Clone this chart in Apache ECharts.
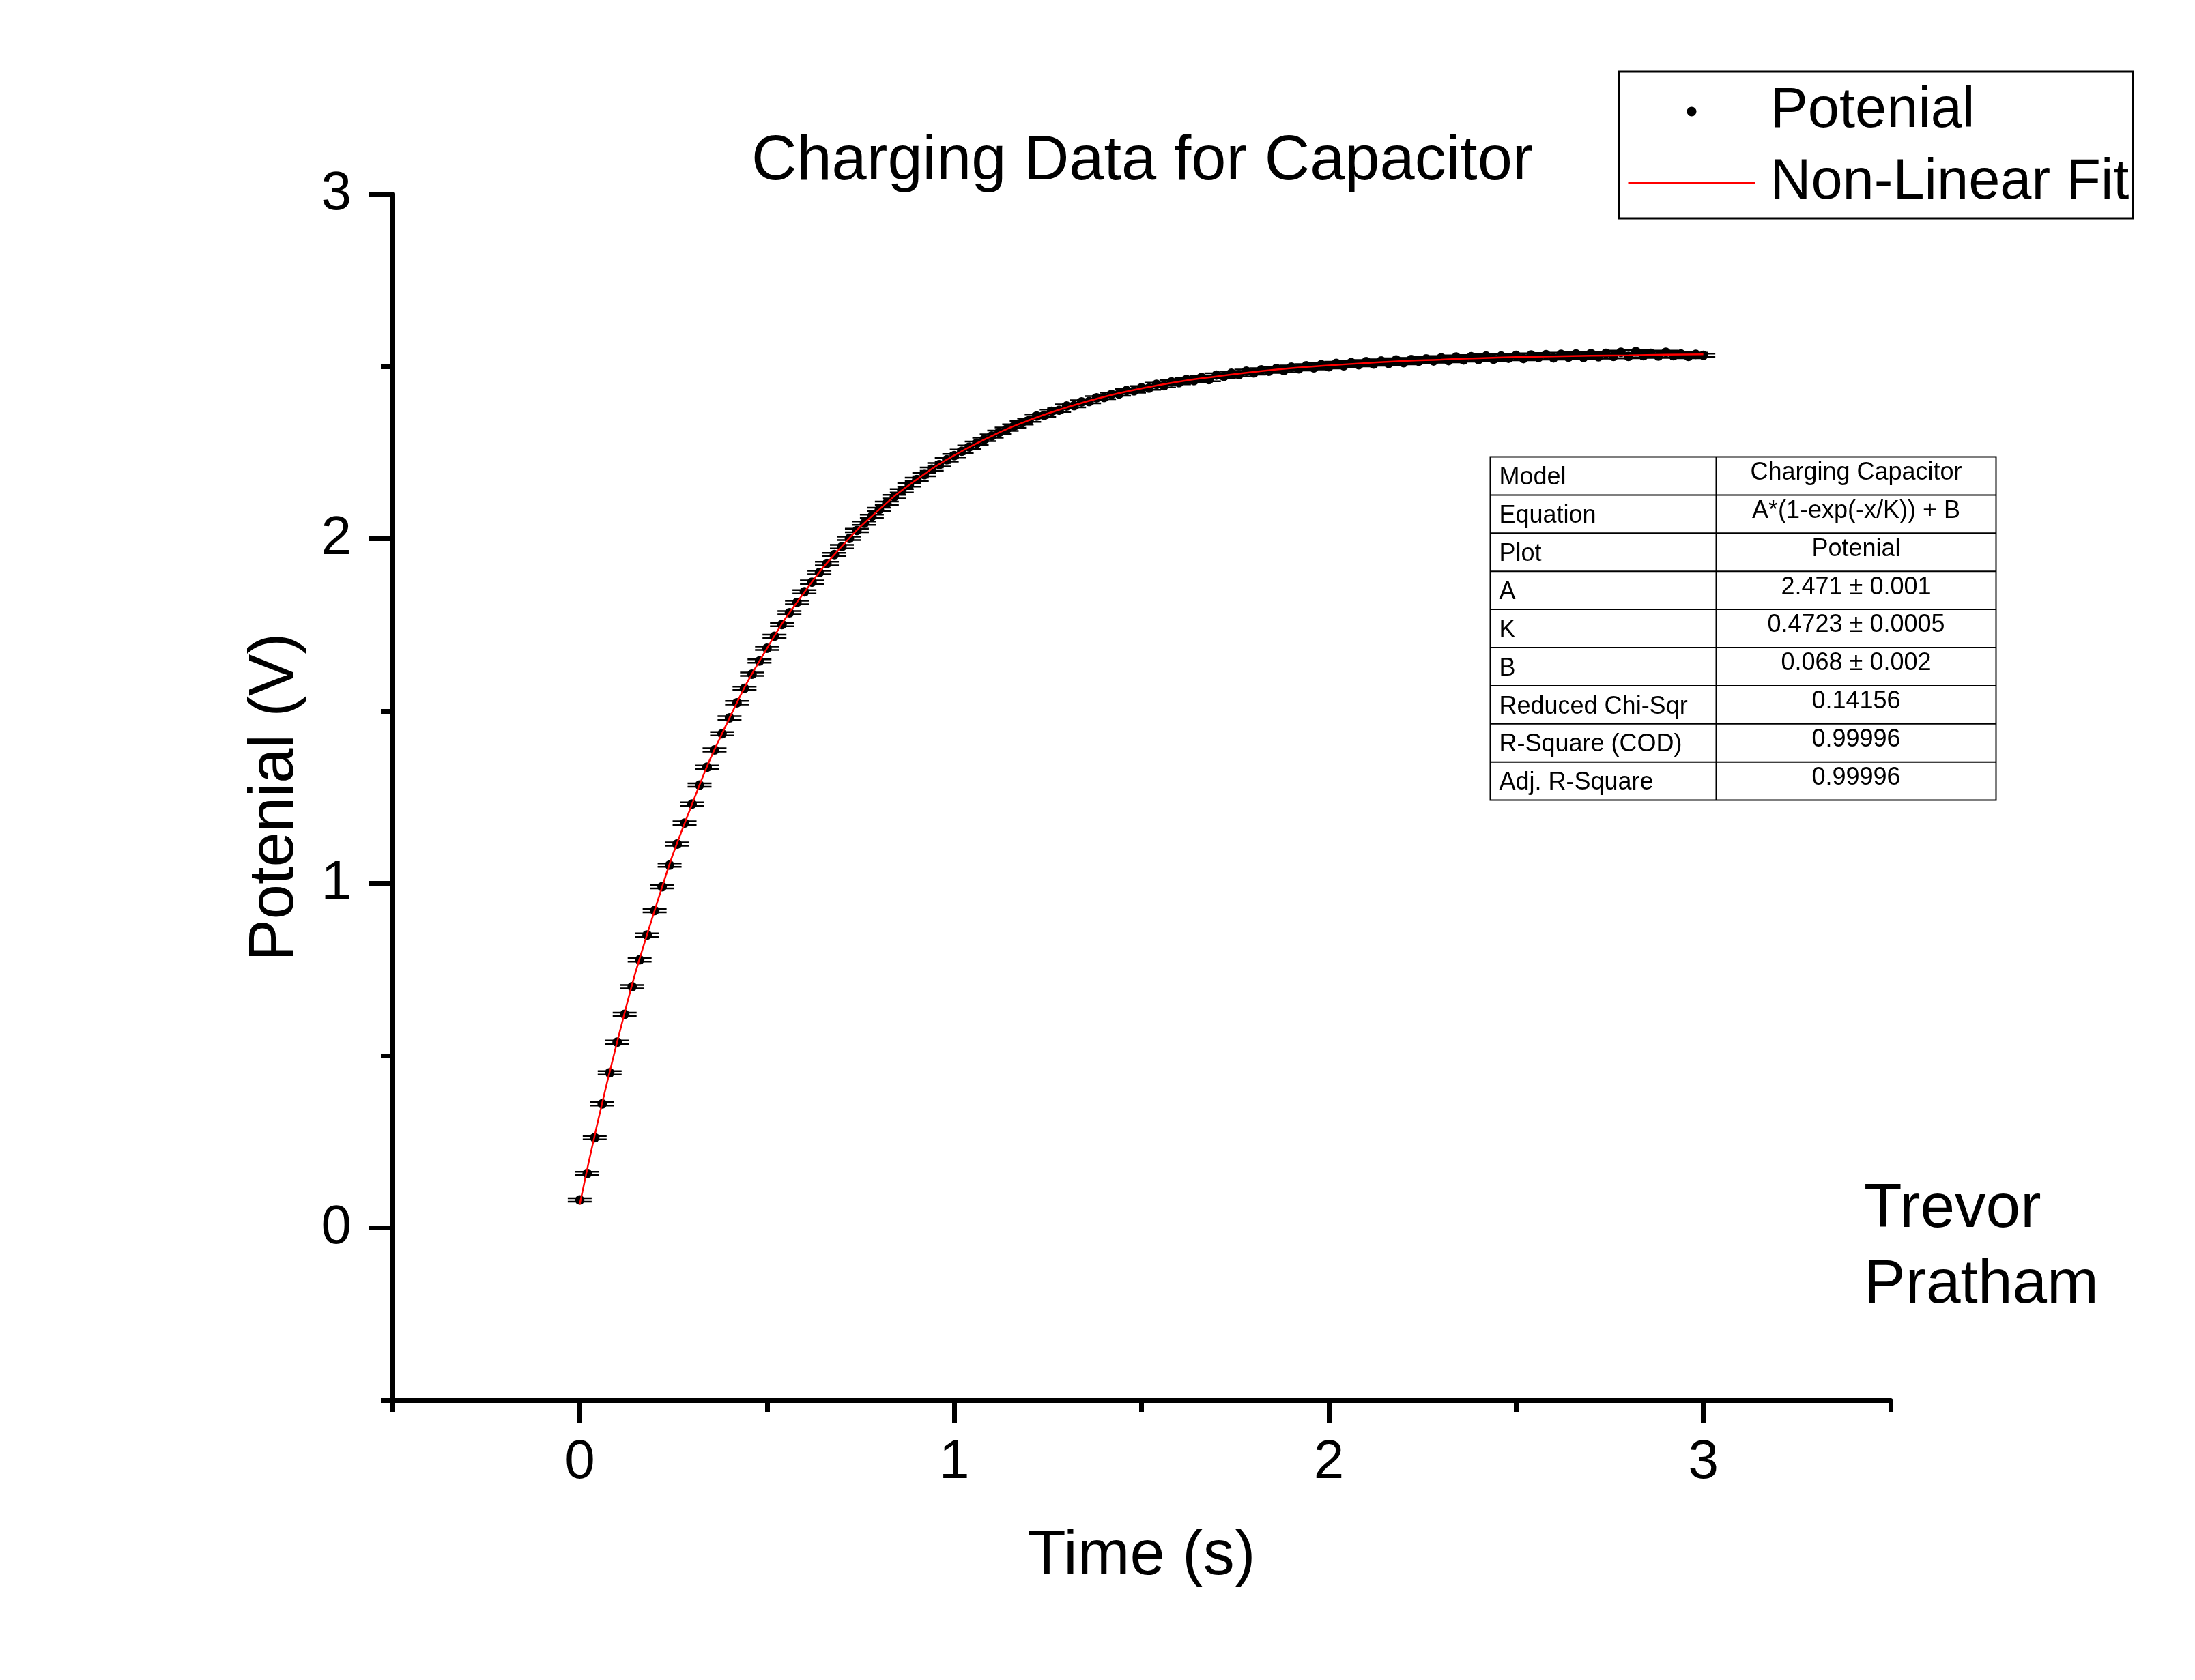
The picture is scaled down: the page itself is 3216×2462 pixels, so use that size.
<!DOCTYPE html>
<html>
<head>
<meta charset="utf-8">
<title>Charging Data for Capacitor</title>
<script src="https://cdn.jsdelivr.net/npm/echarts@6.0.0/dist/echarts.min.js"></script>
<style>
  html, body { margin: 0; padding: 0; background: #fff; }
  #main { width: 3216px; height: 2462px; }
</style>
</head>
<body>
<div id="main"></div>
<script>
// measured readings, one every 0.02 s
const time = [
  0, 0.02, 0.04, 0.06, 0.08, 0.1, 0.12, 0.14, 0.16, 0.18,
  0.2, 0.22, 0.24, 0.26, 0.28, 0.3, 0.32, 0.34, 0.36, 0.38,
  0.4, 0.42, 0.44, 0.46, 0.48, 0.5, 0.52, 0.54, 0.56, 0.58,
  0.6, 0.62, 0.64, 0.66, 0.68, 0.7, 0.72, 0.74, 0.76, 0.78,
  0.8, 0.82, 0.84, 0.86, 0.88, 0.9, 0.92, 0.94, 0.96, 0.98,
  1, 1.02, 1.04, 1.06, 1.08, 1.1, 1.12, 1.14, 1.16, 1.18,
  1.2, 1.22, 1.24, 1.26, 1.28, 1.3, 1.32, 1.34, 1.36, 1.38,
  1.4, 1.42, 1.44, 1.46, 1.48, 1.5, 1.52, 1.54, 1.56, 1.58,
  1.6, 1.62, 1.64, 1.66, 1.68, 1.7, 1.72, 1.74, 1.76, 1.78,
  1.8, 1.82, 1.84, 1.86, 1.88, 1.9, 1.92, 1.94, 1.96, 1.98,
  2, 2.02, 2.04, 2.06, 2.08, 2.1, 2.12, 2.14, 2.16, 2.18,
  2.2, 2.22, 2.24, 2.26, 2.28, 2.3, 2.32, 2.34, 2.36, 2.38,
  2.4, 2.42, 2.44, 2.46, 2.48, 2.5, 2.52, 2.54, 2.56, 2.58,
  2.6, 2.62, 2.64, 2.66, 2.68, 2.7, 2.72, 2.74, 2.76, 2.78,
  2.8, 2.82, 2.84, 2.86, 2.88, 2.9, 2.92, 2.94, 2.96, 2.98,
  3
];
const potential = [
  0.081, 0.158, 0.262, 0.360, 0.450, 0.539, 0.620, 0.700, 0.778, 0.850,
  0.921, 0.990, 1.053, 1.114, 1.175, 1.230, 1.285, 1.337, 1.387, 1.434,
  1.480, 1.524, 1.566, 1.607, 1.645, 1.682, 1.717, 1.751, 1.785, 1.815,
  1.846, 1.874, 1.902, 1.928, 1.954, 1.977, 2.001, 2.024, 2.045, 2.065,
  2.085, 2.103, 2.122, 2.139, 2.156, 2.172, 2.186, 2.202, 2.215, 2.229,
  2.241, 2.254, 2.266, 2.277, 2.288, 2.298, 2.309, 2.318, 2.327, 2.336,
  2.344, 2.356, 2.358, 2.370, 2.373, 2.385, 2.386, 2.397, 2.398, 2.409,
  2.410, 2.419, 2.420, 2.430, 2.429, 2.438, 2.437, 2.448, 2.444, 2.455,
  2.453, 2.462, 2.459, 2.468, 2.462, 2.475, 2.471, 2.480, 2.476, 2.486,
  2.481, 2.490, 2.486, 2.494, 2.488, 2.498, 2.493, 2.502, 2.496, 2.505,
  2.499, 2.509, 2.502, 2.511, 2.505, 2.514, 2.507, 2.516, 2.509, 2.519,
  2.511, 2.520, 2.515, 2.522, 2.516, 2.525, 2.517, 2.527, 2.519, 2.528,
  2.520, 2.530, 2.521, 2.530, 2.524, 2.532, 2.523, 2.533, 2.526, 2.534,
  2.525, 2.535, 2.527, 2.536, 2.526, 2.537, 2.528, 2.538, 2.529, 2.541,
  2.529, 2.543, 2.531, 2.538, 2.530, 2.541, 2.531, 2.536, 2.529, 2.535,
  2.532
];
const potentialErr = 0.005;

// fitted curve, read every 0.1 s
const fitTime = [
  0, 0.1, 0.2, 0.3, 0.4, 0.5, 0.6, 0.7, 0.8, 0.9,
  1, 1.1, 1.2, 1.3, 1.4, 1.5, 1.6, 1.7, 1.8, 1.9,
  2, 2.1, 2.2, 2.3, 2.4, 2.5, 2.6, 2.7, 2.8, 2.9, 3
];
const fitPotential = [
  0.068, 0.540, 0.921, 1.230, 1.480, 1.682, 1.845, 1.978, 2.085, 2.172,
  2.242, 2.298, 2.344, 2.381, 2.412, 2.436, 2.456, 2.471, 2.484, 2.495,
  2.503, 2.510, 2.516, 2.520, 2.524, 2.527, 2.529, 2.531, 2.532, 2.534, 2.535
];

const xMajorTicks = [0, 1, 2, 3];
const xMinorTicks = [-0.5, 0.5, 1.5, 2.5, 3.5];
const yMajorTicks = [0, 1, 2, 3];
const yMinorTicks = [-0.5, 0.5, 1.5, 2.5];

const tableNames = ['Model', 'Equation', 'Plot', 'A', 'K', 'B', 'Reduced Chi-Sqr', 'R-Square (COD)', 'Adj. R-Square'];
const tableValues = ['Charging Capacitor', 'A*(1-exp(-x/K)) + B', 'Potenial', '2.471 ± 0.001', '0.4723 ± 0.0005', '0.068 ± 0.002', '0.14156', '0.99996', '0.99996'];

const FONT = "'Liberation Sans', Arial, sans-serif";

// fit results table
const tableW = 741, rowH = 55.9, splitX = 331;
const tableChildren = [
  { type: 'rect', shape: { x: 0, y: 0, width: tableW, height: rowH * tableNames.length },
    style: { fill: '#fff', stroke: '#000', lineWidth: 2 } },
  { type: 'line', shape: { x1: splitX, y1: 0, x2: splitX, y2: rowH * tableNames.length },
    style: { stroke: '#000', lineWidth: 2 } }
];
tableNames.forEach((name, i) => {
  if (i > 0) {
    tableChildren.push({ type: 'line', shape: { x1: 0, y1: i * rowH, x2: tableW, y2: i * rowH },
      style: { stroke: '#000', lineWidth: 2 } });
  }
  tableChildren.push({ type: 'text', x: 13, y: i * rowH + rowH * 0.55,
    style: { text: name, fontSize: 36, fontFamily: FONT, fill: '#000', align: 'left', verticalAlign: 'middle' } });
  tableChildren.push({ type: 'text', x: (splitX + tableW) / 2, y: i * rowH + rowH * 0.42,
    style: { text: tableValues[i], fontSize: 36, fontFamily: FONT, fill: '#000', align: 'center', verticalAlign: 'middle' } });
});

const axisLineStyle = { color: '#000', width: 7 };

const chart = echarts.init(document.getElementById('main'));
chart.setOption({
  backgroundColor: '#fff',
  animation: false,
  textStyle: { fontFamily: FONT },
  title: {
    text: 'Charging Data for Capacitor',
    left: 1101,
    top: 192,
    padding: 0,
    textStyle: { fontSize: 92, fontWeight: 'normal', color: '#000', fontFamily: FONT }
  },
  legend: {
    orient: 'vertical',
    left: 2372,
    top: 105,
    padding: [17, 6, 10, 12],
    itemGap: 22,
    itemWidth: 186,
    itemHeight: 14,
    borderColor: '#000',
    borderWidth: 3,
    textStyle: { fontSize: 83, lineHeight: 83, color: '#000', fontFamily: FONT, padding: [0, 0, 0, 17] },
    data: [
      { name: 'Potenial', icon: 'circle', itemStyle: { color: '#000', opacity: 1 } },
      { name: 'Non-Linear Fit', itemStyle: { opacity: 0 }, lineStyle: { color: '#ff0000', width: 3 } }
    ]
  },
  grid: { left: 575, right: 446, top: 284.5, bottom: 410 },
  xAxis: [
    {
      type: 'value', min: -0.5, max: 3.5,
      name: 'Time (s)', nameLocation: 'middle', nameGap: 184,
      nameTextStyle: { fontSize: 92, color: '#000', fontFamily: FONT },
      axisLine: { onZero: false, lineStyle: axisLineStyle },
      axisTick: { customValues: xMajorTicks, length: 34, lineStyle: axisLineStyle },
      axisLabel: { customValues: xMajorTicks, fontSize: 80, color: '#000', margin: 52, fontFamily: FONT },
      splitLine: { show: false }
    },
    {
      type: 'value', min: -0.5, max: 3.5, position: 'bottom',
      axisLine: { show: false, onZero: false },
      axisTick: { customValues: xMinorTicks, length: 17, lineStyle: axisLineStyle },
      axisLabel: { show: false },
      splitLine: { show: false }
    }
  ],
  yAxis: [
    {
      type: 'value', min: -0.5, max: 3,
      name: 'Potenial (V)', nameLocation: 'middle', nameGap: 125,
      nameTextStyle: { fontSize: 92, color: '#000', fontFamily: FONT },
      axisLine: { onZero: false, lineStyle: axisLineStyle },
      axisTick: { customValues: yMajorTicks, length: 35, lineStyle: axisLineStyle },
      axisLabel: { customValues: yMajorTicks, fontSize: 80, color: '#000', margin: 60, fontFamily: FONT },
      splitLine: { show: false }
    },
    {
      type: 'value', min: -0.5, max: 3, position: 'left',
      axisLine: { show: false, onZero: false },
      axisTick: { customValues: yMinorTicks, length: 17, lineStyle: axisLineStyle },
      axisLabel: { show: false },
      splitLine: { show: false }
    }
  ],
  graphic: [
    { type: 'group', left: 2181, top: 667, children: tableChildren },
    { type: 'text', left: 2731, top: 1717,
      style: { text: 'Trevor\nPratham', fontSize: 91, lineHeight: 111, fontFamily: FONT, fill: '#000' } }
  ],
  series: [
    {
      name: 'error',
      type: 'custom',
      silent: true,
      z: 2,
      data: time.map((t, i) => [t, potential[i]]),
      renderItem: (params, api) => {
        const t = api.value(0), v = api.value(1);
        const hi = api.coord([t, v + potentialErr]);
        const lo = api.coord([t, v - potentialErr]);
        const half = 17.5;
        const s = { stroke: '#000', lineWidth: 2.5 };
        return {
          type: 'group',
          children: [
            { type: 'line', shape: { x1: hi[0], y1: hi[1], x2: lo[0], y2: lo[1] }, style: s },
            { type: 'line', shape: { x1: hi[0] - half, y1: hi[1], x2: hi[0] + half, y2: hi[1] }, style: s },
            { type: 'line', shape: { x1: lo[0] - half, y1: lo[1], x2: lo[0] + half, y2: lo[1] }, style: s }
          ]
        };
      }
    },
    {
      name: 'Potenial',
      type: 'scatter',
      z: 3,
      symbol: 'circle',
      symbolSize: 14,
      itemStyle: { color: '#000', opacity: 1 },
      data: time.map((t, i) => [t, potential[i]])
    },
    {
      name: 'Non-Linear Fit',
      type: 'line',
      z: 4,
      smooth: true,
      symbol: 'none',
      showSymbol: false,
      lineStyle: { color: '#ff0000', width: 2.5 },
      itemStyle: { color: '#ff0000' },
      data: fitTime.map((t, i) => [t, fitPotential[i]])
    }
  ]
});
</script>
</body>
</html>
